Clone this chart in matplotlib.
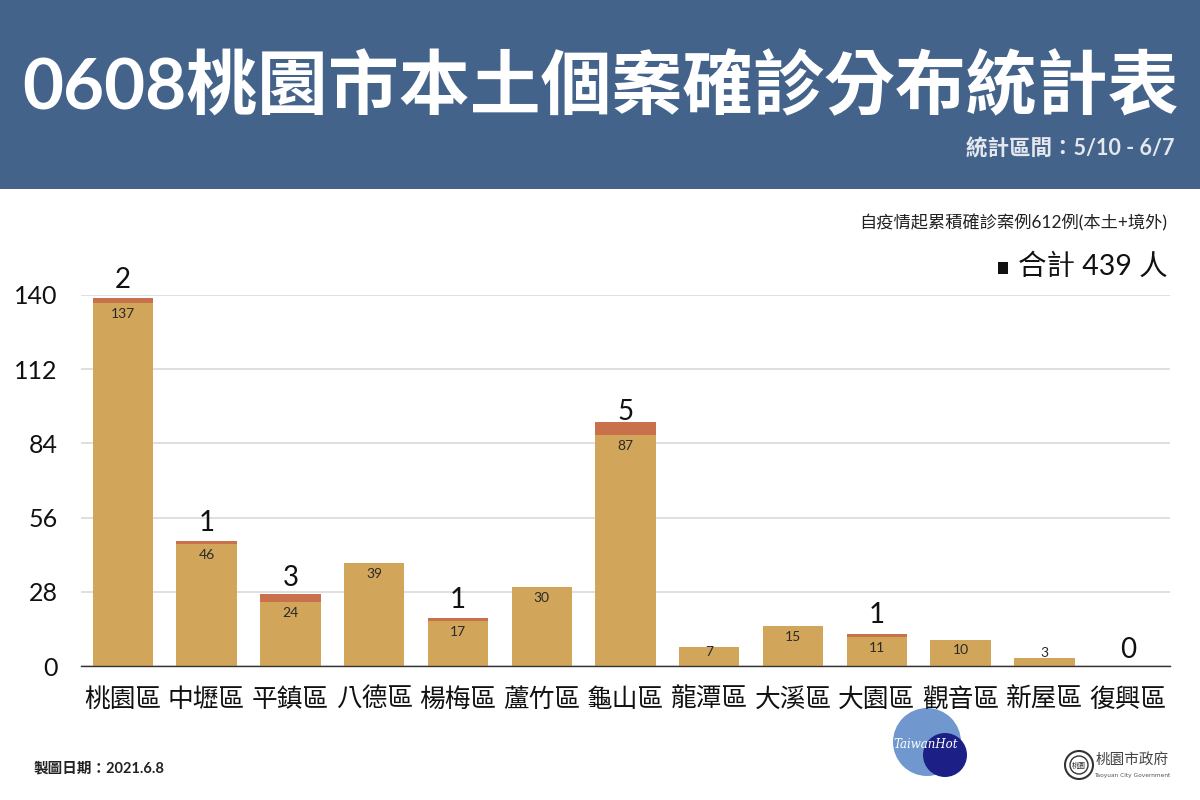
import matplotlib

matplotlib.use("Agg")
import matplotlib.pyplot as plt
from matplotlib.patches import Circle, Rectangle

plt.rcParams["font.family"] = ["Lato", "Noto Sans CJK TC", "DejaVu Sans"]

districts = ["桃園區", "中壢區", "平鎮區", "八德區", "楊梅區", "蘆竹區", "龜山區",
             "龍潭區", "大溪區", "大園區", "觀音區", "新屋區", "復興區"]
lower = [137, 46, 24, 39, 17, 30, 87, 7, 15, 11, 10, 3, 0]
upper = [2, 1, 3, 0, 1, 0, 5, 0, 0, 1, 0, 0, 0]
y_ticks = [0, 28, 56, 84, 112, 140]

W, H = 1200, 800
HEADER = "#43638b"
BAR = "#d1a55a"
TOP = "#c9714d"

fig = plt.figure(figsize=(12, 8), dpi=100, facecolor="white")

# page layer in pixel coordinates, for the banner, notes and logos
bg = fig.add_axes([0, 0, 1, 1])
bg.set_xlim(0, W)
bg.set_ylim(H, 0)
bg.axis("off")

bg.add_patch(Rectangle((0, 0), W, 189, color=HEADER, lw=0))
bg.text(600, 88, "0608桃園市本土個案確診分布統計表", color="white", fontsize=51,
        fontweight="bold", ha="center", va="center")
bg.text(1174, 149, "統計區間：5/10 - 6/7", color="#e4e8ee", fontsize=15.5,
        fontweight="bold", ha="right", va="center")
bg.text(1167, 223, "自疫情起累積確診案例612例(本土+境外)", color="#222222", fontsize=12.4,
        ha="right", va="center")
bg.text(1168, 267, "合計 439 人", color="#111111", fontsize=20.5, ha="right", va="center")
bg.add_patch(Rectangle((998, 262), 10, 12, color="#111111", lw=0))
bg.text(34, 768, "製圖日期：2021.6.8", color="#222222", fontsize=10.5,
        fontweight="bold", ha="left", va="center")

# watermark
bg.add_patch(Circle((927, 742), 34, color="#7098cf", lw=0))
bg.add_patch(Circle((945, 755), 22, color="#1c2086", lw=0))
bg.text(926, 745, "TaiwanHot", color="white", fontsize=8.5, family="DejaVu Serif",
        style="italic", ha="center", va="center")

# city logo
bg.add_patch(Circle((1079, 765), 14, fc="white", ec="#333333", lw=1.5))
bg.add_patch(Circle((1079, 765), 9, fc="white", ec="#333333", lw=1))
bg.text(1079, 765, "桃園", color="#333333", fontsize=5, ha="center", va="center")
bg.text(1132, 760, "桃園市政府", color="#444444", fontsize=10.5, ha="center", va="center")
bg.text(1132, 775, "Taoyuan City Government", color="#555555", fontsize=4.2,
        family="DejaVu Sans", ha="center", va="center")

# chart layer
ax = fig.add_axes([81 / W, (H - 666) / H, 1089 / W, 371 / H])
ax.patch.set_alpha(0)
xs = range(len(districts))
ax.bar(xs, lower, width=0.72, color=BAR, zorder=2)
ax.bar(xs, upper, width=0.72, bottom=lower, color=TOP, zorder=2)

for x, low, up in zip(xs, lower, upper):
    total = low + up
    if low:
        # the shortest bars cannot hold their label the same way
        off = -11 if low > 7 else (-5 if low == 7 else 5)
        ax.annotate(str(low), (x, low), xytext=(0, off * 0.72), textcoords="offset points",
                    ha="center", va="center", fontsize=10, color="#2a2a2a", zorder=3)
    if up or total == 0:
        # the labels above the bars do not sit at one height in the original
        off = {5: 7.5, 3: 11.5, 0: 11.5, 2: 12.5}.get(up, 13.5)
        ax.annotate(str(up), (x, total), xytext=(0, off), textcoords="offset points",
                    ha="center", va="center", fontsize=20, color="#111111", zorder=3)

ax.set_xlim(-0.5, len(districts) - 0.5)
ax.set_ylim(0, 140)
ax.set_yticks(y_ticks)
ax.set_xticks(list(xs))
ax.set_xticklabels(districts, fontsize=18.5, color="#111111")
ax.tick_params(axis="y", length=0, pad=17, labelsize=18, labelcolor="#111111")
ax.tick_params(axis="x", length=0, pad=15)
ax.grid(axis="y", color="#d9d9d9", lw=1.2, zorder=1)
ax.set_axisbelow(True)
for side in ("top", "right", "left"):
    ax.spines[side].set_visible(False)
ax.spines["bottom"].set_color("#333333")
ax.spines["bottom"].set_linewidth(1)

fig.savefig("out.png", dpi=100)
